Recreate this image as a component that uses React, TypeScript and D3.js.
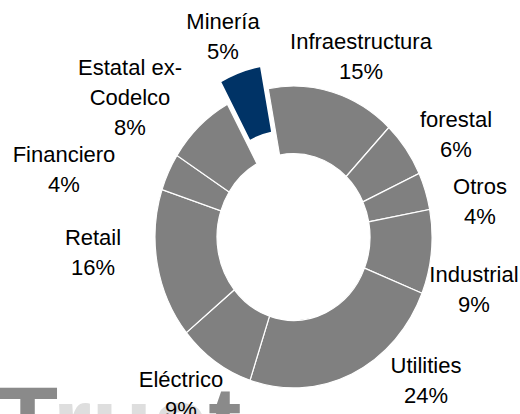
import React from "react";
import * as d3 from "d3";

const categories = ["Infraestructura", "forestal", "Otros", "Industrial", "Utilities", "Eléctrico", "Retail", "Financiero", "Estatal ex-Codelco", "Minería"];
const values = [15, 6, 4, 9, 24, 9, 16, 4, 8, 5];
const labelLines = [
  ["Infraestructura", "15%"],
  ["forestal", "6%"],
  ["Otros", "4%"],
  ["Industrial", "9%"],
  ["Utilities", "24%"],
  ["Eléctrico", "9%"],
  ["Retail", "16%"],
  ["Financiero", "4%"],
  ["Estatal ex-", "Codelco", "8%"],
  ["Minería", "5%"],
];
const labelPos: [number, number][] = [
  [361, 49],
  [456, 127],
  [480, 194],
  [474, 282],
  [426, 373],
  [181, 387],
  [93, 245],
  [64, 162],
  [130, 75],
  [223, 29],
];
const highlight = "Minería";

const W = 520, H = 414;
const cx = 293.5, cy = 237;
const R = 138.5, r = 76.5, sy = 1.09;
const startDeg = -10.5;
const explode = 22;

export default function App() {
  const pie = d3.pie<number>().sort(null).value((d) => d)
    .startAngle((startDeg * Math.PI) / 180)
    .endAngle(((startDeg + 360) * Math.PI) / 180);
  const arcs = pie(values);
  const arc = d3.arc<d3.PieArcDatum<number>>().innerRadius(r).outerRadius(R);
  const font = "'Liberation Sans', Arial, Helvetica, sans-serif";
  return (
    <svg width={W} height={H} style={{ position: "absolute", left: 0, top: 0, background: "#fff" }}>
      <text x={-3} y={457} fontFamily={font} fontWeight="bold" fontSize={100} fill="#8a8a8a">
        T<tspan fill="#dedede">rus</tspan><tspan fill="#8a8a8a">t</tspan>
      </text>
      <g transform={`translate(${cx},${cy}) scale(1,${sy})`}>
        {arcs.map((a, i) => {
          const isH = categories[i] === highlight;
          const mid = (a.startAngle + a.endAngle) / 2;
          const dx = isH ? Math.sin(mid) * explode : 0;
          const dy = isH ? -Math.cos(mid) * explode : 0;
          return (
            <path
              key={categories[i]}
              d={arc(a) || ""}
              transform={`translate(${dx},${dy})`}
              fill={isH ? "#003366" : "#808080"}
              stroke="#ffffff"
              strokeWidth={isH ? 2 : 1.2}
              vectorEffect="non-scaling-stroke"
            />
          );
        })}
      </g>
      {labelLines.map((lines, i) => (
        <text key={categories[i]} x={labelPos[i][0]} y={labelPos[i][1]} textAnchor="middle" fontFamily={font} fontSize={22} fill="#000">
          {lines.map((t, j) => (
            <tspan key={j} x={labelPos[i][0]} dy={j === 0 ? 0 : 30}>{t}</tspan>
          ))}
        </text>
      ))}
    </svg>
  );
}
